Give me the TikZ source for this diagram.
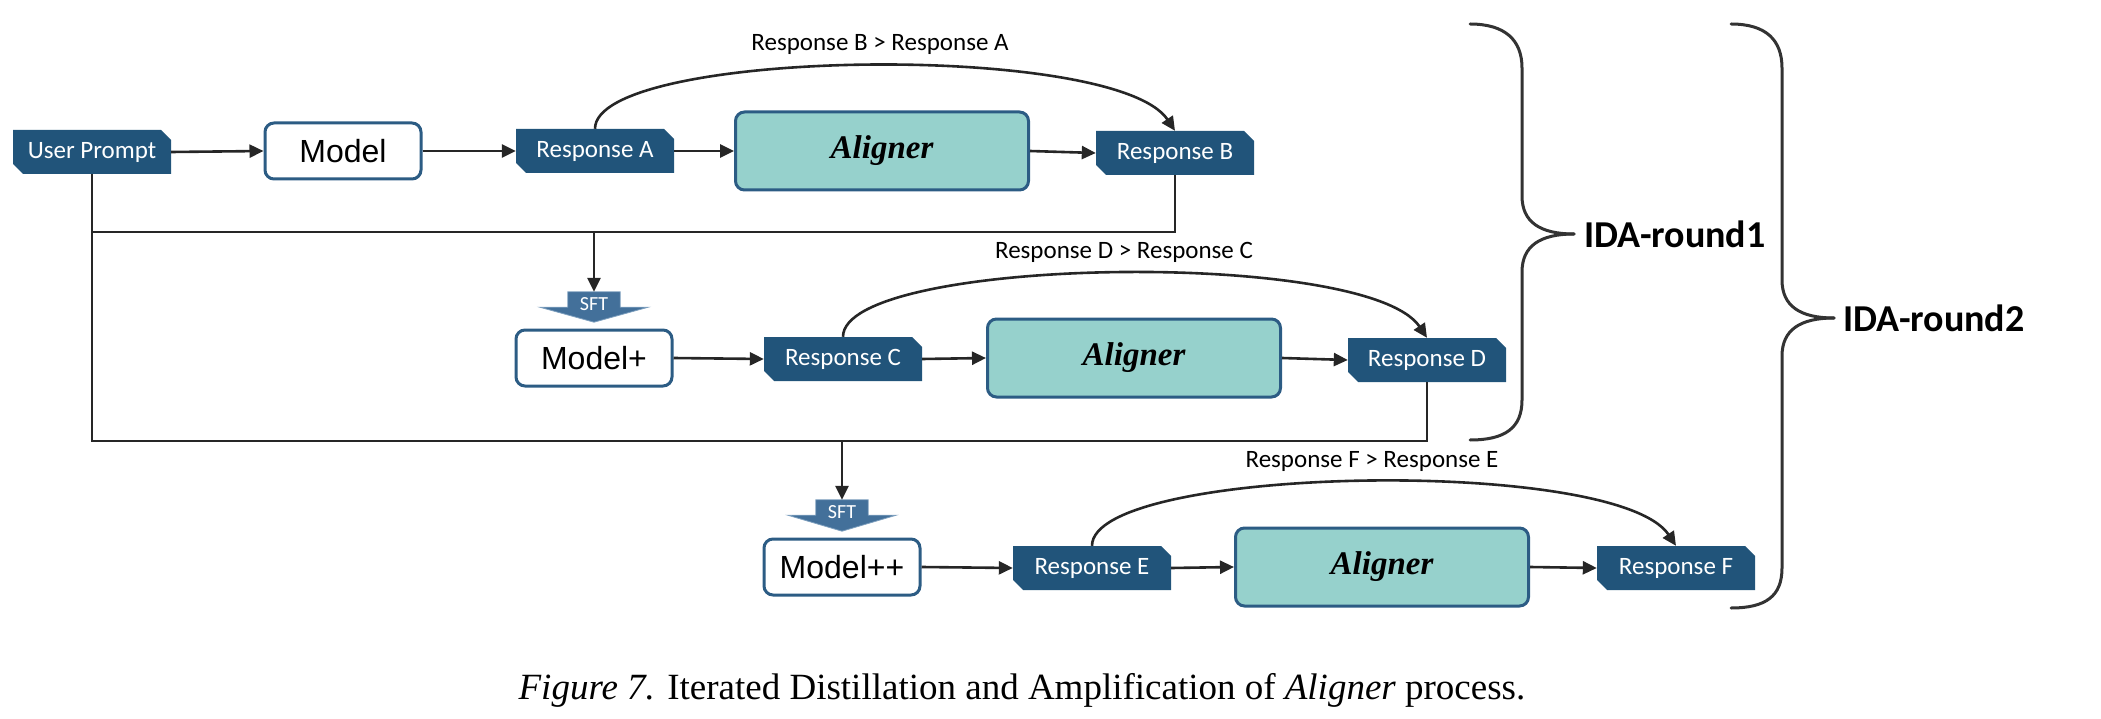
\documentclass[tikz,border=0pt]{standalone}
\usepackage{fontspec}
\setmainfont{Liberation Serif}
\newfontfamily\carl{Carlito}
\newfontfamily\arialf{Liberation Sans}
\usetikzlibrary{arrows.meta,shapes.misc,calc}
\definecolor{respc}{HTML}{21547A}
\definecolor{bordc}{HTML}{2C5C84}
\definecolor{alfill}{HTML}{96D1CC}
\definecolor{sftc}{HTML}{43709A}
\definecolor{sftb}{HTML}{7D9FBE}
\definecolor{linec}{HTML}{262626}
\definecolor{bracec}{HTML}{333333}
\begin{document}
\begin{tikzpicture}[x=1pt,y=-1pt,
  resp/.style={chamfered rectangle, chamfered rectangle corners={north east,south west},
    chamfered rectangle xsep=5pt, chamfered rectangle ysep=5pt,
    fill=respc, text=white, minimum width=158pt, minimum height=44pt, inner sep=0pt,
    font=\carl\fontsize{25}{29}\selectfont},
  model/.style={rectangle, rounded corners=9pt, draw=bordc, line width=3pt, fill=white,
    minimum width=156pt, minimum height=56pt, inner sep=0pt,
    font=\arialf\fontsize{32}{36}\selectfont},
  aligner/.style={rectangle, rounded corners=9pt, draw=bordc, line width=3pt, fill=alfill,
    minimum width=293pt, minimum height=78pt, inner sep=0pt,
    font=\bfseries\itshape\fontsize{33}{38}\selectfont},
  lbl/.style={font=\carl\fontsize{25}{29}\selectfont, inner sep=0pt},
  conn/.style={draw=linec, line width=2.6pt},
  arr/.style={conn, -{Triangle[length=14pt,width=13pt]}},
  sftbox/.style={rectangle, minimum width=52pt, minimum height=15pt, inner sep=0pt},
  sftshape/.style={fill=sftc, draw=sftb, line width=0.8pt, line join=miter},
  sfttext/.style={text=white, inner sep=0pt, font=\carl\fontsize{20}{24}\selectfont},
  brace/.style={draw=bracec, line width=3pt, line cap=round},
  ida/.style={anchor=west, inner sep=0pt, font=\carl\bfseries\fontsize{38}{44}\selectfont},
  curve/.style={conn, -{Triangle[length=14pt,width=13pt]}}
]
\useasboundingbox (0,0) rectangle (2101,719);

% row 1
\node[resp] (up) at (92,152) {User Prompt};
\node[model] (m0) at (343,151) {Model};
\node[resp] (ra) at (595,151) {Response A};
\node[aligner] (al1) at (882,151) {Aligner};
\node[resp] (rb) at (1175,153) {Response B};
\node[lbl] (l1) at (880,44) {Response B > Response A};

% row 2
\node[model] (mp) at (594,358) {Model+};
\node[resp] (rc) at (843,359) {Response C};
\node[aligner] (al2) at (1134,358) {Aligner};
\node[resp] (rd) at (1427,360) {Response D};
\node[lbl] (l2) at (1124,252) {Response D > Response C};

% row 3
\node[model] (mpp) at (842,567) {Model++};
\node[resp] (re) at (1092,568) {Response E};
\node[aligner] (al3) at (1382,567) {Aligner};
\node[resp] (rf) at (1676,568) {Response F};
\node[lbl] (l3) at (1372,461) {Response F > Response E};

% SFT arrows
\node[sftbox] (sft1) at (594,299.5) {};
\path[sftshape] (sft1.north west) -- (sft1.north east) -- (sft1.south east) -- ++(28,0)
  -- ($(sft1.south)+(0,15)$) -- ($(sft1.south west)+(-28,0)$) -- (sft1.south west) -- cycle;
\node[sfttext] (sft1t) at ($(sft1)+(0,5)$) {SFT};
\node[sftbox] (sft2) at (842,507.5) {};
\path[sftshape] (sft2.north west) -- (sft2.north east) -- (sft2.south east) -- ++(28,0)
  -- ($(sft2.south)+(0,16)$) -- ($(sft2.south west)+(-28,0)$) -- (sft2.south west) -- cycle;
\node[sfttext] (sft2t) at ($(sft2)+(0,5)$) {SFT};

% straight arrows
\draw[arr] (up.east) -- (m0.west);
\draw[arr] (m0.east) -- (ra.west);
\draw[arr] (ra.east) -- (al1.west);
\draw[arr] (al1.east) -- (rb.west);
\draw[arr] (mp.east) -- (rc.west);
\draw[arr] (rc.east) -- (al2.west);
\draw[arr] (al2.east) -- (rd.west);
\draw[arr] (mpp.east) -- (re.west);
\draw[arr] (re.east) -- (al3.west);
\draw[arr] (al3.east) -- (rf.west);

% curved preference arrows
\draw[curve] (ra.north) .. controls +(0,-80) and +(-60,-90) .. (rb.north);
\draw[curve] (rc.north) .. controls +(0,-80) and +(-60,-90) .. (rd.north);
\draw[curve] (re.north) .. controls +(0,-80) and +(-60,-90) .. (rf.north);

% feedback lines
\coordinate (h1) at (594,232);
\coordinate (h2) at (842,441);
\draw[conn] (up.south) |- (h2) -| (rd.south);
\draw[conn] (up.south |- h1) -- (h1) -| (rb.south);
\draw[arr] (h1) -- (sft1.north);
\draw[arr] (h2) -- (sft2.north);

% braces
\coordinate (b1tip) at (1574,234);
\coordinate (b2tip) at (1834,318);
\draw[brace] (1470,24) .. controls (1505,24) and (1522,40) .. (1522,68) -- (1522,196)
  .. controls (1522,222) and (1540,234) .. (b1tip);
\draw[brace] (b1tip) .. controls (1540,234) and (1522,246) .. (1522,272) -- (1522,400)
  .. controls (1522,428) and (1505,440) .. (1470,440);
\draw[brace] (1731,24) .. controls (1766,24) and (1782,40) .. (1782,68) -- (1782,280)
  .. controls (1782,306) and (1800,318) .. (b2tip);
\draw[brace] (b2tip) .. controls (1800,318) and (1782,330) .. (1782,356) -- (1782,568)
  .. controls (1782,596) and (1766,608) .. (1731,608);
\node[ida] (ida1) at (1584,234) {IDA-round1};
\node[ida] (ida2) at (1843,318) {IDA-round2};

% caption
\node[inner sep=0pt, font=\fontsize{37}{42}\selectfont] (cap) at (1022,690)
  {\textit{Figure 7.} Iterated Distillation and Amplification of \textit{Aligner} process.};
\end{tikzpicture}
\end{document}
